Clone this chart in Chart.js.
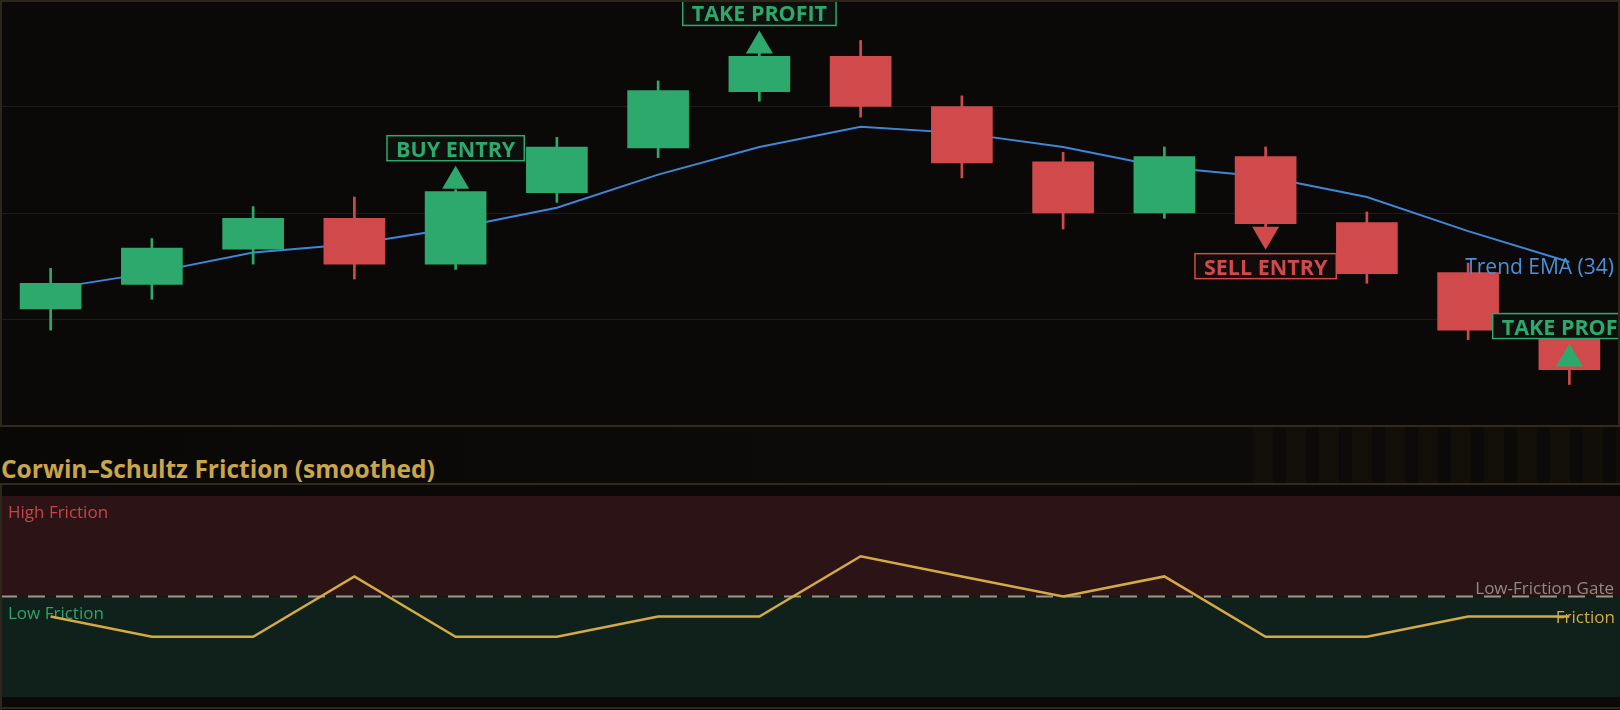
<!DOCTYPE html>
<html>
<head>
<meta charset="utf-8">
<script src="https://cdn.jsdelivr.net/npm/chart.js@4.4.1/dist/chart.umd.min.js"></script>
<style>
  html, body { margin:0; padding:0; background:#0a0908; }
  body { width:1620px; height:710px; overflow:hidden; position:relative; font-family:"Open Sans", sans-serif; }
  #top { position:absolute; left:0; top:0; width:1620px; height:426px; }
  #strip { position:absolute; left:0; top:425px; width:1620px; height:60px;
    background:
      repeating-linear-gradient(90deg, rgba(70,52,18,0.11) 0 20px, rgba(0,0,0,0) 20px 33px) 1253px 0 / 370px 100% no-repeat,
      linear-gradient(90deg, #090807, #0c0b09 60%, #0b0a08);
    border-top:2px solid #312b1d; border-bottom:2px solid #312b1d; box-sizing:border-box; }
  #title { position:absolute; left:1px; top:454px; font-weight:bold; font-size:24.5px; line-height:30px; color:#c9a64a; white-space:nowrap; }
  #bottom { position:absolute; left:0; top:485px; width:1620px; height:225px; }
  .edge { position:absolute; background:#2d271a; }
</style>
</head>
<body>
<div id="top"><canvas id="price" width="1620" height="426"></canvas></div>
<div id="strip"></div>
<div id="title">Corwin–Schultz Friction (smoothed)</div>
<div id="bottom"><canvas id="fric" width="1620" height="225"></canvas></div>
<div class="edge" style="left:0;top:0;width:1620px;height:2px"></div>
<div class="edge" style="left:0;top:0;width:2px;height:426px"></div>
<div class="edge" style="left:1618px;top:0;width:2px;height:426px"></div>
<div class="edge" style="left:0;top:485px;width:2px;height:225px"></div>
<div class="edge" style="left:0;top:707px;width:1620px;height:2px"></div>
<script>
// bars (15 min)
var labels = ['09:30','09:45','10:00','10:15','10:30','10:45','11:00','11:15','11:30','11:45','12:00','12:15','12:30','12:45','13:00','13:15'];
var opens  = [111.0,113.3,116.6,119.5,115.2,121.9,126.1,131.4,134.7,130.0,124.8,120.0,125.3,119.1,114.4,108.3];
var highs  = [114.8,117.6,120.6,121.5,122.2,127.1,132.4,135.0,136.2,131.0,125.7,126.2,126.2,120.1,115.3,109.2];
var lows   = [109.0,111.9,115.2,113.8,114.7,121.0,125.2,130.5,129.0,123.3,118.5,119.5,118.6,113.4,108.1,103.9];
var closes = [113.4,116.7,119.5,115.2,122.0,126.2,131.5,134.7,130.0,124.7,120.0,125.3,119.0,114.3,109.0,105.3];
var ema34  = [112.9,114.4,116.3,117.1,118.6,120.5,123.6,126.2,128.1,127.5,126.2,124.3,123.4,121.5,118.3,115.4];
// signals
var signalIdx  = [4, 7, 12, 15];
var signalText = ['BUY ENTRY','TAKE PROFIT','SELL ENTRY','TAKE PROFIT'];
var signalDir  = ['up','up','down','up'];
// friction panel
var friction = [4,3,3,6,3,3,4,4,7,6,5,6,3,3,4,4];
var frictionGate = 5;

var GREEN = '#2ea96d', RED = '#d04a4c', BLUE = '#3f87d6', GOLD = '#d3aa45';
var candleCol = closes.map(function(c,i){ return c >= opens[i] ? GREEN : RED; });

var markers = {
  id: 'markers',
  afterDatasetsDraw: function(chart){
    var ctx = chart.ctx, x = chart.scales.x, y = chart.scales.y;
    ctx.save();
    ctx.font = 'bold 21.5px "Open Sans"';
    signalIdx.forEach(function(idx, k){
      var up = signalDir[k] === 'up';
      var col = up ? GREEN : RED;
      var cx = x.getPixelForValue(idx);
      var cy = y.getPixelForValue(closes[idx]);
      var base = up ? cy - 3 : cy + 3;
      var tip = up ? base - 23 : base + 23;
      ctx.fillStyle = col;
      ctx.beginPath();
      ctx.moveTo(cx - 13.5, base); ctx.lineTo(cx + 13.5, base); ctx.lineTo(cx, tip);
      ctx.closePath(); ctx.fill();
      var w = ctx.measureText(signalText[k]).width + 18, h = 25;
      var top = up ? tip - 5 - h : tip + 4;
      ctx.fillStyle = up ? '#0e100d' : '#130c0b';
      ctx.fillRect(cx - w/2, top, w, h);
      ctx.strokeStyle = col; ctx.lineWidth = 1.5;
      ctx.strokeRect(cx - w/2, top, w, h);
      ctx.fillStyle = col; ctx.textAlign = 'center'; ctx.textBaseline = 'alphabetic';
      ctx.fillText(signalText[k], cx, top + h - 4);
    });
    // ema tag
    var last = ema34.length - 1;
    ctx.font = '21px "Open Sans"';
    ctx.fillStyle = '#4a8fd9'; ctx.textAlign = 'right';
    ctx.fillText('Trend EMA (34)', chart.chartArea.right - 6, y.getPixelForValue(ema34[last]) + 12);
    ctx.restore();
  }
};

new Chart(document.getElementById('price').getContext('2d'), {
  type: 'bar',
  data: {
    labels: labels,
    datasets: [
      { type:'line', label:'Trend EMA (34)', data: ema34, borderColor: BLUE, borderWidth: 2, pointRadius: 0, tension: 0, order: 3 },
      { label:'wick', data: lows.map(function(l,i){ return [l, highs[i]]; }), backgroundColor: candleCol, barThickness: 2, grouped: false, borderWidth: 0, order: 2 },
      { label:'body', data: opens.map(function(o,i){ return [o, closes[i]]; }), backgroundColor: candleCol, barThickness: 61, grouped: false, borderWidth: 0, order: 1 }
    ]
  },
  options: {
    responsive: false, animation: false, devicePixelRatio: 1,
    layout: { padding: 0 },
    plugins: { legend: { display: false }, tooltip: { enabled: false } },
    scales: {
      x: { display: false, offset: true },
      y: { min: 100, max: 140, ticks: { display: false, stepSize: 10 },
           grid: { color: '#1e1c18', drawTicks: false }, border: { display: false } }
    }
  },
  plugins: [markers]
});

var zones = {
  id: 'zones',
  beforeDatasetsDraw: function(chart){
    var ctx = chart.ctx, a = chart.chartArea, y = chart.scales.y;
    var g = y.getPixelForValue(frictionGate);
    ctx.save();
    ctx.fillStyle = '#2c1416';
    ctx.fillRect(a.left, a.top, a.right - a.left, g - a.top);
    ctx.fillStyle = '#10201a';
    ctx.fillRect(a.left, g, a.right - a.left, a.bottom - g);
    ctx.strokeStyle = '#9b968a'; ctx.lineWidth = 2; ctx.setLineDash([17, 11]);
    ctx.beginPath(); ctx.moveTo(a.left, g); ctx.lineTo(a.right, g); ctx.stroke();
    ctx.setLineDash([]);
    ctx.font = '17px "Open Sans"'; ctx.textBaseline = 'alphabetic';
    ctx.textAlign = 'left';
    ctx.fillStyle = '#c8454b'; ctx.fillText('High Friction', a.left + 8, a.top + 22);
    ctx.fillStyle = '#2ea36b'; ctx.fillText('Low Friction', a.left + 8, g + 22);
    ctx.textAlign = 'right';
    ctx.fillStyle = '#8f8a80'; ctx.fillText('Low-Friction Gate', a.right - 6, g - 3);
    ctx.restore();
  },
  afterDatasetsDraw: function(chart){
    var ctx = chart.ctx, a = chart.chartArea, y = chart.scales.y;
    ctx.save();
    ctx.font = '17px "Open Sans"'; ctx.textAlign = 'right'; ctx.textBaseline = 'alphabetic';
    ctx.fillStyle = GOLD;
    ctx.fillText('Friction', a.right - 5, y.getPixelForValue(friction[friction.length - 1]) + 6);
    ctx.restore();
  }
};

new Chart(document.getElementById('fric').getContext('2d'), {
  type: 'line',
  data: {
    labels: labels,
    datasets: [
      { label:'Friction', data: friction, borderColor: GOLD, borderWidth: 2.5, pointRadius: 0, tension: 0 }
    ]
  },
  options: {
    responsive: false, animation: false, devicePixelRatio: 1,
    layout: { padding: { top: 11, bottom: 13, left: 0, right: 0 } },
    plugins: { legend: { display: false }, tooltip: { enabled: false } },
    scales: {
      x: { display: false, offset: true },
      y: { display: false, min: 0, max: 10 }
    }
  },
  plugins: [zones]
});
</script>
</body>
</html>
